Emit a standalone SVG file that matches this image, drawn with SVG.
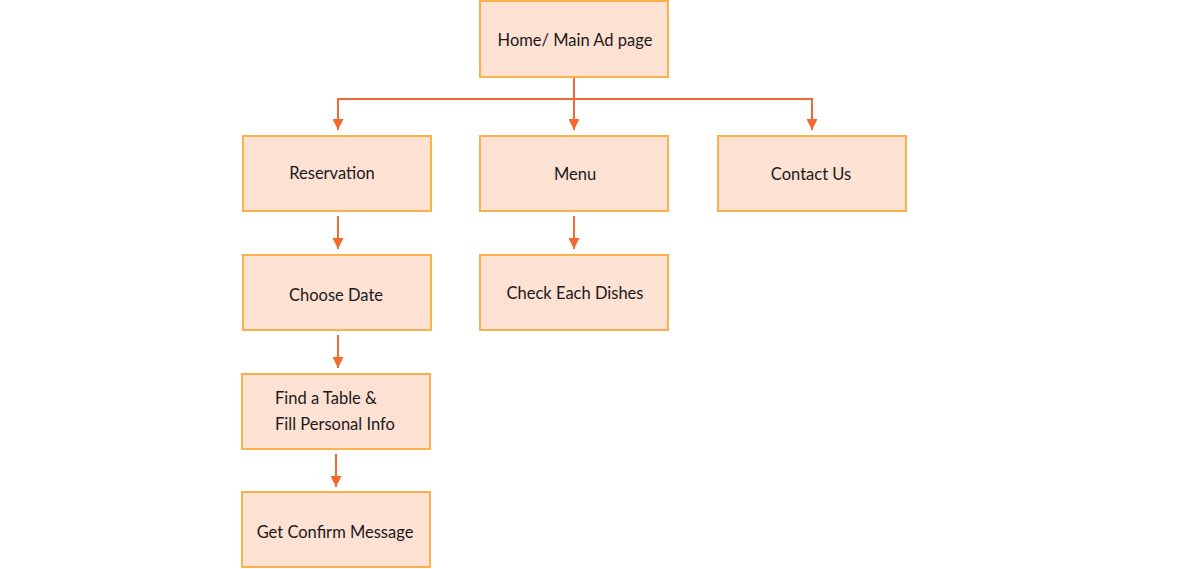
<svg xmlns="http://www.w3.org/2000/svg" width="1183" height="569" viewBox="0 0 1183 569">
<defs>
<style>
.box{fill:#FDE1D3;stroke:#FBB04C;stroke-width:2}
.lbl{font-family:Lato,"Liberation Sans",sans-serif;font-size:16.5px;fill:#1a1a1a}
.c{text-anchor:middle}
.con{fill:none;stroke:#F26A2E;stroke-width:2}
</style>
<marker id="a" viewBox="0 0 10 10" refX="10" refY="5" markerWidth="12" markerHeight="11" orient="auto" markerUnits="userSpaceOnUse">
<path d="M0,0 L10,5 L0,10 z" fill="#F26A2E"/>
</marker>
</defs>
<rect width="1183" height="569" fill="#ffffff"/>
<g id="connectors">
<path class="con" d="M574,77 V130" marker-end="url(#a)"/>
<path class="con" d="M338,130 V99 H812 V130" marker-end="url(#a)"/>
<path class="con" d="M338,99 V130" marker-end="url(#a)"/>
<path class="con" d="M338,216 V249" marker-end="url(#a)"/>
<path class="con" d="M574,216 V249" marker-end="url(#a)"/>
<path class="con" d="M338,335 V368" marker-end="url(#a)"/>
<path class="con" d="M336,454 V487" marker-end="url(#a)"/>
</g>
<g id="home"><rect class="box" x="480" y="1" width="188" height="76"/><text class="lbl c" x="575" y="46">Home/ Main Ad page</text></g>
<g id="reservation"><rect class="box" x="243" y="136" width="188" height="75"/><text class="lbl c" x="332" y="179">Reservation</text></g>
<g id="menu"><rect class="box" x="480" y="136" width="188" height="75"/><text class="lbl c" x="575" y="180">Menu</text></g>
<g id="contact"><rect class="box" x="718" y="136" width="188" height="75"/><text class="lbl c" x="811" y="180">Contact Us</text></g>
<g id="choose-date"><rect class="box" x="243" y="255" width="188" height="75"/><text class="lbl c" x="336" y="301">Choose Date</text></g>
<g id="check-dishes"><rect class="box" x="480" y="255" width="188" height="75"/><text class="lbl c" x="575" y="299">Check Each Dishes</text></g>
<g id="find-table"><rect class="box" x="242" y="374" width="188" height="75"/><text class="lbl" x="275" y="404">Find a Table &amp;</text><text class="lbl" x="275" y="430">Fill Personal Info</text></g>
<g id="confirm"><rect class="box" x="242" y="492" width="188" height="75"/><text class="lbl c" x="335" y="538">Get Confirm Message</text></g>
</svg>
